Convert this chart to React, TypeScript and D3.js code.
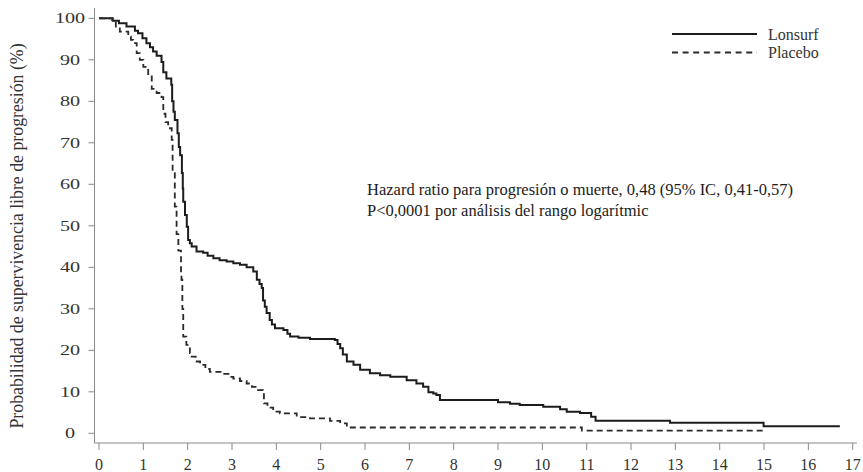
import React from "react";
import * as d3 from "d3";

// Kaplan–Meier progression-free survival (months, % free of progression)
const lonsurfTime = [0, 0.31, 0.45, 0.62, 0.81, 0.88, 0.98, 1.07, 1.15, 1.22, 1.3, 1.41, 1.45, 1.52, 1.63, 1.65, 1.68, 1.71, 1.77, 1.8, 1.83, 1.87, 1.89, 1.9, 1.94, 1.98, 2.01, 2.05, 2.09, 2.2, 2.35, 2.45, 2.58, 2.72, 2.88, 3.03, 3.18, 3.33, 3.48, 3.56, 3.62, 3.67, 3.7, 3.74, 3.78, 3.85, 3.9, 3.97, 4.16, 4.25, 4.31, 4.5, 4.76, 5.32, 5.38, 5.44, 5.5, 5.59, 5.74, 5.89, 6.11, 6.34, 6.57, 6.94, 7.16, 7.31, 7.43, 7.54, 7.61, 7.69, 9.0, 9.27, 9.49, 10.02, 10.4, 10.55, 10.85, 11.1, 11.2, 12.88, 14.99, 16.71];
const lonsurfPct = [100, 99.4, 98.8, 98, 97, 96.4, 95.2, 94, 93, 92, 91, 89.5, 87, 85.5, 84, 80, 77.5, 75.5, 72.3, 69, 67, 62.7, 59, 55.8, 52.6, 49.8, 46.6, 45.8, 45, 43.8, 43.5, 42.8, 42.2, 41.7, 41.4, 41, 40.6, 40, 39, 37, 36, 35, 32, 30.5, 29, 27.3, 26.2, 25.3, 24.9, 24, 23.3, 23, 22.7, 22.5, 21.5, 20.5, 19, 17.3, 16.5, 15.3, 14.5, 14, 13.6, 12.8, 12, 11.2, 9.9, 9.6, 9.2, 8.0, 7.5, 7.1, 6.8, 6.4, 5.8, 5.2, 4.9, 4.0, 3.0, 2.55, 1.7, 1.7];

const placeboTime = [0, 0.3, 0.38, 0.47, 0.66, 0.72, 0.77, 0.85, 0.92, 1.0, 1.11, 1.19, 1.3, 1.41, 1.45, 1.5, 1.56, 1.64, 1.66, 1.71, 1.75, 1.79, 1.85, 1.86, 1.88, 1.9, 1.97, 2.05, 2.09, 2.18, 2.28, 2.4, 2.5, 2.8, 2.95, 3.03, 3.18, 3.33, 3.45, 3.56, 3.7, 3.72, 3.8, 3.93, 4.08, 4.46, 4.76, 5.21, 5.44, 5.59, 10.89, 15.0];
const placeboPct = [100, 99.3, 98, 96.8, 95.6, 94.8, 94, 91.6, 90, 88.3, 86.3, 83, 82, 81, 77, 75, 73.5, 70.7, 62.7, 54.6, 48, 44, 38.6, 37, 30, 23.3, 21.3, 19.3, 18.5, 17.3, 16.5, 15.5, 14.8, 14.3, 13.6, 13.2, 12.6, 12, 11.2, 10.4, 10, 7.2, 6.2, 5.2, 4.8, 3.9, 3.6, 3.0, 2.4, 1.4, 0.65, 0.65];

const xTicks = d3.range(0, 18);
const yTicks = d3.range(0, 101, 10);

const seriesNames = ["Lonsurf", "Placebo"];
const annotationLines = [
  "Hazard ratio para progresión o muerte, 0,48 (95% IC, 0,41-0,57)",
  "P<0,0001 por análisis del rango logarítmic",
];
const yTitle = "Probabilidad de supervivencia libre de progresión (%)";

const W = 863;
const H = 472;
const FONT = "'Liberation Serif', 'Times New Roman', serif";
const AXIS = "#8a8a8a";
const TEXT = "#333";
const INK = "#1c1c1c";

export default function App() {
  const x = d3.scaleLinear().domain([0, 17]).range([99, 852.7]);
  const y = d3.scaleLinear().domain([0, 100]).range([433.3, 18.3]);

  const axisX = 94.5;
  const axisY = 443;

  const line = d3
    .line<[number, number]>()
    .x((d) => x(d[0]))
    .y((d) => y(d[1]))
    .curve(d3.curveStepAfter);

  const lonsurf = lonsurfTime.map((t, i) => [t, lonsurfPct[i]] as [number, number]);
  const placebo = placeboTime.map((t, i) => [t, placeboPct[i]] as [number, number]);

  return (
    <svg
      width={W}
      height={H}
      style={{ position: "absolute", left: 0, top: 0, background: "#fff" }}
      fontFamily={FONT}
    >
      {/* axes */}
      <line x1={axisX} x2={axisX} y1={8} y2={axisY} stroke={AXIS} strokeWidth={1} />
      <line x1={axisX} x2={857} y1={axisY} y2={axisY} stroke={AXIS} strokeWidth={1} />

      {yTicks.map((v) => (
        <g key={"y" + v}>
          <line x1={axisX - 6} x2={axisX} y1={y(v)} y2={y(v)} stroke={AXIS} />
          <text
            transform={`translate(70,${y(v)}) scale(1.3,1)`}
            textAnchor="middle"
            dominantBaseline="central"
            fontSize={15.5}
            fill={TEXT}
          >
            {v}
          </text>
        </g>
      ))}

      {xTicks.map((v) => (
        <g key={"x" + v}>
          <line x1={x(v)} x2={x(v)} y1={axisY} y2={axisY + 7} stroke={AXIS} />
          <text x={x(v)} y={470} textAnchor="middle" fontSize={16} fill={TEXT}>
            {v}
          </text>
        </g>
      ))}

      <text
        transform={`translate(23,236) rotate(-90)`}
        textAnchor="middle"
        fontSize={17.8}
        fill={TEXT}
      >
        {yTitle}
      </text>

      {/* survival curves */}
      <path d={line(lonsurf) ?? ""} fill="none" stroke={INK} strokeWidth={2} />
      <path
        d={line(placebo) ?? ""}
        fill="none"
        stroke="#2a2a2a"
        strokeWidth={1.8}
        strokeDasharray="6,4"
      />

      {/* legend */}
      <line x1={672} x2={757} y1={34} y2={34} stroke={INK} strokeWidth={2} />
      <line x1={672} x2={757} y1={52.5} y2={52.5} stroke="#2a2a2a" strokeWidth={1.8} strokeDasharray="6,4.6" />
      <text x={768} y={34} dominantBaseline="central" fontSize={16} fill={TEXT}>
        {seriesNames[0]}
      </text>
      <text x={768} y={52.5} dominantBaseline="central" fontSize={16} fill={TEXT}>
        {seriesNames[1]}
      </text>

      {annotationLines.map((s, i) => (
        <text key={s} x={367} y={195 + i * 21} fontSize={16.5} fill={INK}>
          {s}
        </text>
      ))}
    </svg>
  );
}
